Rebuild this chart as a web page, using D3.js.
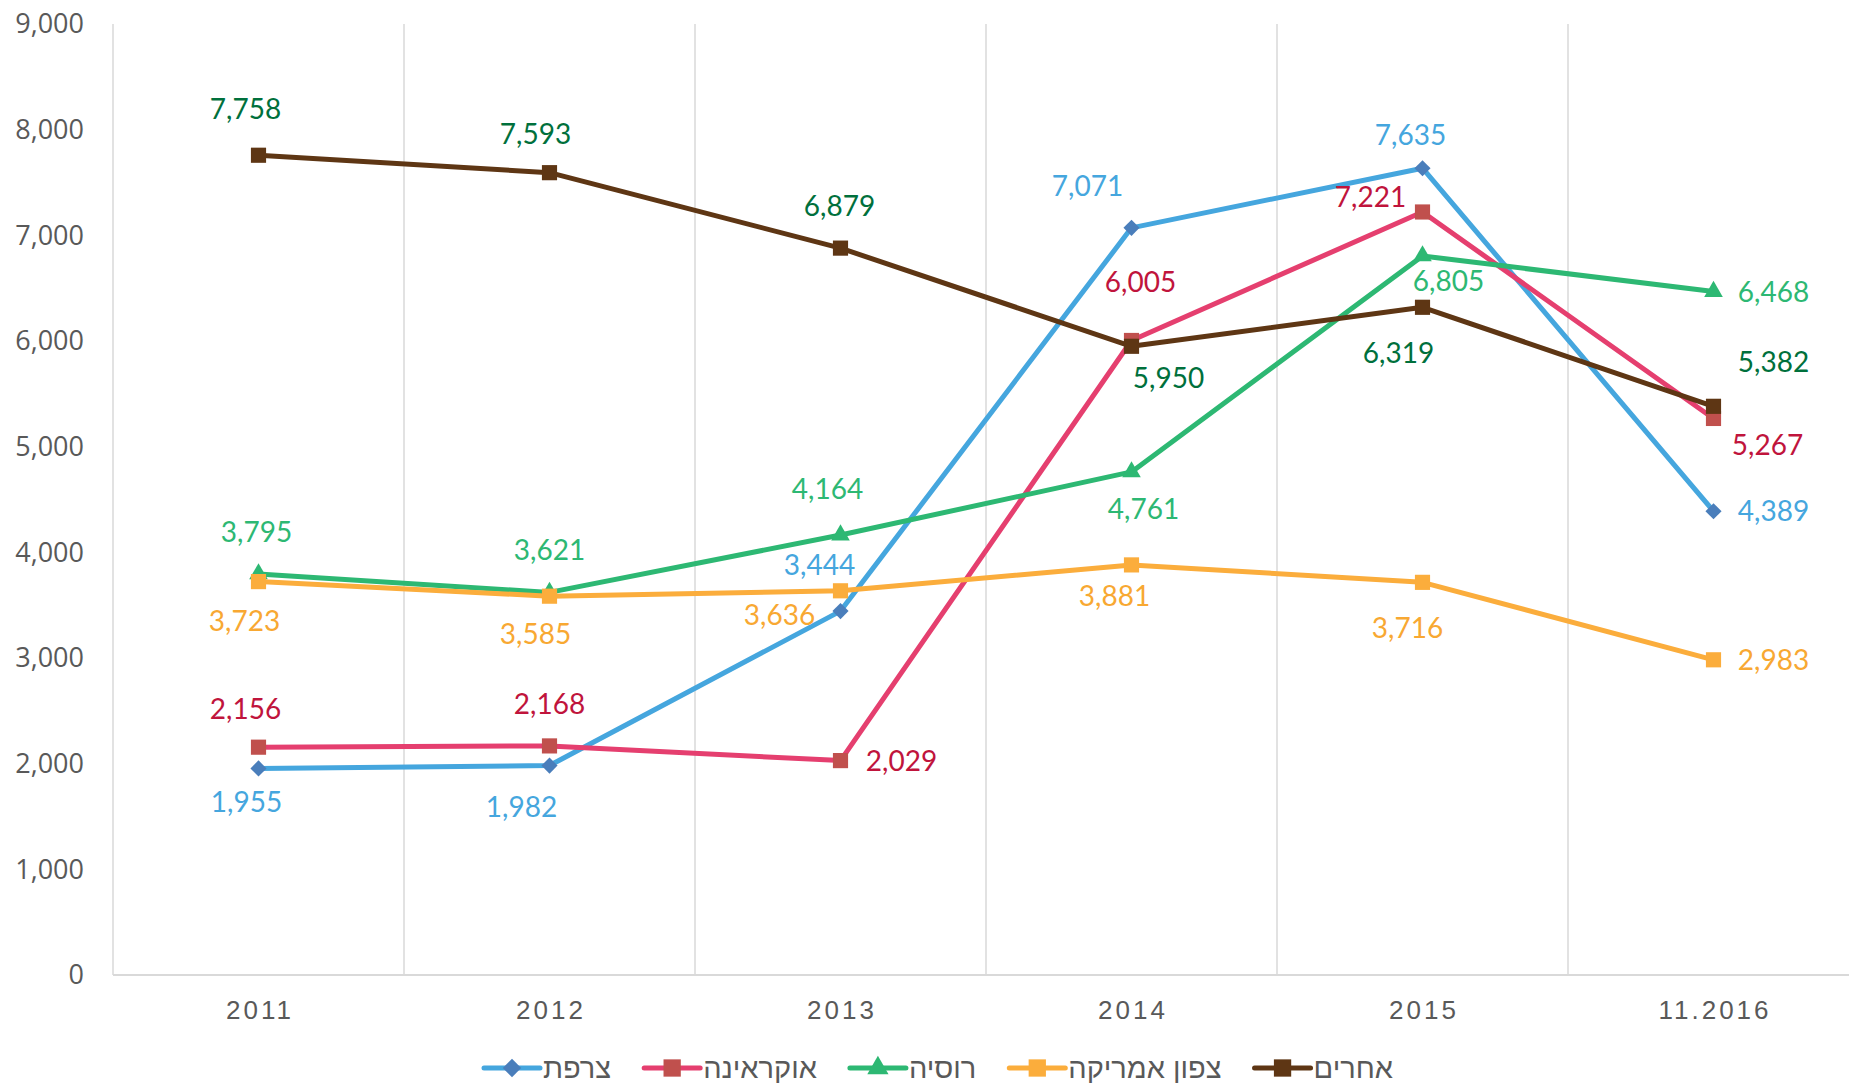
<!DOCTYPE html>
<html lang="he">
<head>
<meta charset="UTF-8">
<title>chart</title>
<script src="https://d3js.org/d3.v7.min.js"></script>
<style>
  body { margin: 0; background: #fff; }
  svg { display: block; }
  .ytick { font-family: "Open Sans", sans-serif; font-size: 27px; fill: #595959; text-anchor: end; }
  .xtick { font-family: "Liberation Sans", Arial, sans-serif; font-size: 26px; fill: #595959; letter-spacing: 3px; text-anchor: middle; }
  .dlabel { font-family: Lato, "Open Sans", sans-serif; font-size: 28px; text-anchor: middle; }
  .legend text { font-family: "Liberation Sans", "DejaVu Sans", sans-serif; font-size: 29px; fill: #595959; }
</style>
</head>
<body>
<svg id="chart"></svg>
<script>
// נתונים
const years = ["2011", "2012", "2013", "2014", "2015", "11.2016"];
const yTicks = [0, 1000, 2000, 3000, 4000, 5000, 6000, 7000, 8000, 9000];

const seriesNames = ["צרפת", "אוקראינה", "רוסיה", "צפון אמריקה", "אחרים"];
const france  = [1955, 1982, 3444, 7071, 7635, 4389];
const ukraine = [2156, 2168, 2029, 6005, 7221, 5267];
const russia  = [3795, 3621, 4164, 4761, 6805, 6468];
const namerica = [3723, 3585, 3636, 3881, 3716, 2983];
const others  = [7758, 7593, 6879, 5950, 6319, 5382];

// מיקום התוויות ביחס לנקודה (dx, dy)
const franceLbl  = [[-12, 34], [-28, 42], [-21, -46], [-44, -42], [-12, -33], [60, 0]];
const ukraineLbl = [[-13, -38], [0, -42], [61, 1], [9, -58], [-52, -15], [54, 27]];
const russiaLbl  = [[-2, -42], [0, -42], [-13, -46], [12, 37], [26, 25], [60, 1]];
const namericaLbl = [[-14, 40], [-14, 38], [-61, 24], [-17, 31], [-15, 46], [60, 0]];
const othersLbl  = [[-13, -46], [-14, -38], [-1, -42], [37, 32], [-24, 46], [60, -44]];

const series = [
  { name: seriesNames[0], values: france, lbl: franceLbl, line: "#45a6de", marker: "#4a7ebb", text: "#45a6de", shape: "diamond" },
  { name: seriesNames[1], values: ukraine, lbl: ukraineLbl, line: "#e53f6f", marker: "#c0504d", text: "#c0143c", shape: "square" },
  { name: seriesNames[2], values: russia, lbl: russiaLbl, line: "#2db873", marker: "#2db873", text: "#2db873", shape: "triangle" },
  { name: seriesNames[3], values: namerica, lbl: namericaLbl, line: "#fbad3c", marker: "#fbad3c", text: "#f8a832", shape: "square" },
  { name: seriesNames[4], values: others, lbl: othersLbl, line: "#5e3614", marker: "#5e3614", text: "#00703c", shape: "square" }
];

const width = 1849, height = 1083;
const svg = d3.select("#chart").attr("width", width).attr("height", height);

const x = d3.scaleBand().domain(years).range([113, 1859]).padding(0);
const cx = d => x(d) + x.bandwidth() / 2;
const y = d3.scaleLinear().domain([0, 9000]).range([975, 24]);

// קווי רשת אנכיים
const bounds = years.map(d => x(d));
svg.append("g").selectAll("line").data(bounds).enter().append("line")
  .attr("x1", d => d).attr("x2", d => d)
  .attr("y1", y(9000)).attr("y2", y(0))
  .attr("stroke", "#d9d9d9").attr("stroke-width", 1.5);

// ציר X
svg.append("line")
  .attr("x1", 113).attr("x2", width)
  .attr("y1", y(0)).attr("y2", y(0))
  .attr("stroke", "#d9d9d9").attr("stroke-width", 2);

svg.append("g").selectAll("text").data(years).enter().append("text")
  .attr("class", "xtick")
  .attr("x", d => cx(d) + 1.5)
  .attr("y", 1010)
  .attr("dy", "0.35em")
  .text(d => d);

// ציר Y
svg.append("g").selectAll("text").data(yTicks).enter().append("text")
  .attr("class", "ytick")
  .attr("x", 84)
  .attr("y", d => y(d))
  .attr("dy", "0.35em")
  .text(d => d3.format(",")(d));

const symbolFor = (shape, k = 1) => {
  if (shape === "diamond") return d3.symbol().type(d3.symbolSquare).size(130 * k);
  if (shape === "triangle") return d3.symbol().type(d3.symbolTriangle).size(150 * k);
  return d3.symbol().type(d3.symbolSquare).size(230 * k);
};

const line = d3.line().x((d, i) => cx(years[i])).y(d => y(d));

series.forEach(s => {
  svg.append("path")
    .datum(s.values)
    .attr("fill", "none")
    .attr("stroke", s.line)
    .attr("stroke-width", 5)
    .attr("stroke-linejoin", "round")
    .attr("d", line);

  svg.append("g").selectAll("path").data(s.values).enter().append("path")
    .attr("d", symbolFor(s.shape))
    .attr("fill", s.marker)
    .attr("transform", (d, i) => `translate(${cx(years[i])},${y(d)})` + (s.shape === "diamond" ? " rotate(45)" : ""));
});

series.forEach(s => {
  svg.append("g").selectAll("text").data(s.values).enter().append("text")
    .attr("class", "dlabel")
    .attr("fill", s.text)
    .attr("x", (d, i) => cx(years[i]) + s.lbl[i][0])
    .attr("y", (d, i) => y(d) + s.lbl[i][1])
    .attr("dy", "0.35em")
    .text(d => d3.format(",")(d));
});

// מקרא
const legend = svg.append("g").attr("class", "legend");
let lx = 484;
const ly = 1068;
series.forEach(s => {
  const g = legend.append("g").attr("transform", `translate(${lx},${ly})`);
  g.append("line").attr("x1", 0).attr("x2", 56).attr("y1", 0).attr("y2", 0)
    .attr("stroke", s.line).attr("stroke-width", 5).attr("stroke-linecap", "round");
  g.append("path").attr("d", symbolFor(s.shape, 1.3)).attr("fill", s.marker)
    .attr("transform", "translate(28,0)" + (s.shape === "diamond" ? " rotate(45)" : ""));
  const t = g.append("text").attr("x", 59).attr("y", 0).attr("dy", "0.35em").text(s.name);
  lx += 59 + t.node().getComputedTextLength() + 33;
});
</script>
</body>
</html>
